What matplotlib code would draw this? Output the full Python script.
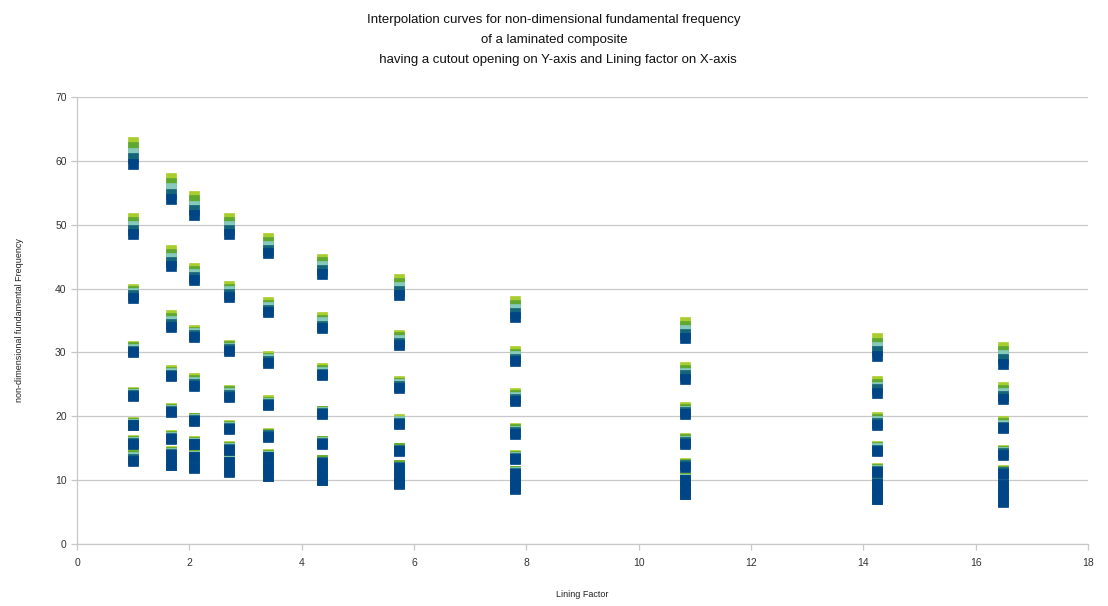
import matplotlib
matplotlib.use("Agg")
import matplotlib.pyplot as plt

plt.rcParams['font.family'] = ['Liberation Sans', 'DejaVu Sans']

# Lining factor positions
lining = [1.0, 1.68, 2.08, 2.7, 3.4, 4.37, 5.73, 7.8, 10.82, 14.24, 16.49]

# Non-dimensional fundamental frequency: five series, each holding eight curves
freq_s1 = [
    [59.5, 54.0, 51.5, 48.5, 45.5, 42.3, 39.0, 35.6, 32.2, 29.5, 28.2],
    [48.5, 43.5, 41.3, 38.7, 36.3, 33.8, 31.1, 28.6, 25.9, 23.7, 22.7],
    [38.6, 34.0, 32.4, 30.2, 28.4, 26.4, 24.4, 22.4, 20.3, 18.7, 18.1],
    [30.0, 26.3, 24.8, 23.1, 21.7, 20.3, 18.8, 17.2, 15.6, 14.6, 14.0],
    [23.2, 20.7, 19.2, 18.0, 16.8, 15.6, 14.5, 13.3, 12.1, 11.3, 11.0],
    [18.6, 16.5, 15.6, 14.8, 13.6, 12.7, 11.9, 11.0, 10.0, 9.4, 9.2],
    [15.6, 14.0, 13.6, 12.8, 11.9, 11.2, 10.4, 9.7, 8.8, 8.2, 7.9],
    [13.0, 12.3, 11.9, 11.3, 10.6, 10.0, 9.4, 8.6, 7.8, 7.0, 6.6],
]
freq_s2 = [
    [60.4, 54.8, 52.3, 49.2, 46.1, 42.9, 39.6, 36.2, 32.9, 30.2, 28.9],
    [49.1, 44.1, 41.8, 39.1, 36.7, 34.2, 31.5, 29.0, 26.4, 24.2, 23.2],
    [39.0, 34.5, 32.7, 30.5, 28.7, 26.7, 24.7, 22.7, 20.6, 19.0, 18.4],
    [30.3, 26.5, 25.1, 23.4, 21.9, 20.5, 19.0, 17.5, 15.9, 14.8, 14.2],
    [23.4, 20.9, 19.4, 18.2, 17.0, 15.8, 14.7, 13.5, 12.3, 11.5, 11.2],
    [18.7, 16.6, 15.7, 14.9, 13.7, 12.8, 12.0, 11.1, 10.1, 9.5, 9.3],
    [15.8, 14.1, 13.7, 12.9, 12.0, 11.3, 10.5, 9.8, 8.9, 8.3, 8.0],
    [13.3, 12.4, 12.0, 11.4, 10.7, 10.1, 9.5, 8.7, 7.9, 7.1, 6.7],
]
freq_s3 = [
    [61.3, 55.7, 53.0, 49.8, 46.7, 43.5, 40.3, 36.8, 33.5, 30.9, 29.6],
    [49.8, 44.8, 42.3, 39.6, 37.1, 34.7, 32.0, 29.4, 26.8, 24.6, 23.7],
    [39.3, 34.9, 33.0, 30.7, 29.0, 27.0, 25.0, 23.1, 20.9, 19.3, 18.7],
    [30.5, 26.8, 25.4, 23.6, 22.1, 20.6, 19.2, 17.7, 16.1, 15.0, 14.4],
    [23.5, 21.0, 19.5, 18.3, 17.1, 15.9, 14.8, 13.6, 12.4, 11.6, 11.3],
    [18.8, 16.7, 15.8, 15.0, 13.8, 12.9, 12.1, 11.2, 10.2, 9.6, 9.4],
    [15.9, 14.2, 13.8, 13.0, 12.1, 11.4, 10.6, 9.9, 9.0, 8.4, 8.1],
    [13.6, 12.5, 12.1, 11.5, 10.8, 10.2, 9.6, 8.8, 8.0, 7.2, 6.8],
]
freq_s4 = [
    [62.1, 56.5, 53.8, 50.5, 47.3, 44.1, 40.9, 37.4, 34.2, 31.5, 30.2],
    [50.4, 45.4, 42.8, 40.0, 37.5, 35.1, 32.4, 29.8, 27.3, 25.1, 24.1],
    [39.7, 35.4, 33.2, 31.0, 29.2, 27.3, 25.2, 23.4, 21.1, 19.6, 19.0],
    [30.8, 27.0, 25.7, 23.9, 22.3, 20.8, 19.3, 18.0, 16.4, 15.2, 14.5],
    [23.7, 21.2, 19.7, 18.5, 17.3, 16.1, 15.0, 13.8, 12.6, 11.8, 11.5],
    [19.0, 16.9, 16.0, 15.2, 14.0, 13.1, 12.3, 11.4, 10.4, 9.8, 9.6],
    [16.1, 14.4, 14.0, 13.2, 12.3, 11.6, 10.8, 10.1, 9.2, 8.6, 8.3],
    [13.9, 12.7, 12.3, 11.7, 11.0, 10.4, 9.8, 9.0, 8.2, 7.4, 7.0],
]
freq_s5 = [
    [63.0, 57.3, 54.5, 51.1, 47.9, 44.7, 41.5, 38.0, 34.8, 32.2, 30.9],
    [51.0, 46.0, 43.3, 40.4, 37.9, 35.5, 32.8, 30.2, 27.7, 25.5, 24.6],
    [40.0, 35.8, 33.5, 31.2, 29.5, 27.6, 25.5, 23.7, 21.4, 19.9, 19.3],
    [31.0, 27.2, 26.0, 24.1, 22.5, 20.9, 19.5, 18.2, 16.6, 15.4, 14.7],
    [23.8, 21.3, 19.8, 18.6, 17.4, 16.2, 15.1, 13.9, 12.7, 11.9, 11.6],
    [19.1, 17.0, 16.1, 15.3, 14.1, 13.2, 12.4, 11.5, 10.5, 9.9, 9.7],
    [16.3, 14.5, 14.1, 13.3, 12.4, 11.7, 10.9, 10.2, 9.3, 8.7, 8.4],
    [14.2, 12.8, 12.4, 11.8, 11.1, 10.5, 9.9, 9.1, 8.3, 7.5, 7.1],
]

series = [freq_s5, freq_s4, freq_s3, freq_s2, freq_s1]
colors = ['#aacd2e', '#5ea832', '#86c9bd', '#14647a', '#004586']

x_ticks = list(range(0, 19, 2))
y_ticks = list(range(0, 71, 10))

fig = plt.figure(figsize=(11.08, 6.06), dpi=100)
ax = fig.add_axes([0.0695, 0.1023, 0.9125, 0.7376])

# draw the highest series first so the lowest one sits on top
for data, col in zip(series, colors):
    for curve in data:
        ax.plot(lining, curve, linestyle='none', marker='s', markersize=7,
                color=col, markeredgecolor=col, markeredgewidth=0.5)

ax.set_xlim(0, 18)
ax.set_ylim(0, 70)
ax.set_xticks(x_ticks)
ax.set_yticks(y_ticks)
ax.yaxis.grid(True, color='#c8c8c8', linewidth=0.9)
ax.set_axisbelow(True)
for side in ['top', 'right']:
    ax.spines[side].set_visible(False)
for side in ['left', 'bottom']:
    ax.spines[side].set_color('#c8c8c8')
    ax.spines[side].set_linewidth(0.9)
ax.tick_params(axis='both', colors='#c8c8c8', labelcolor='#333333',
               labelsize=7.5, length=4, width=0.9)
ax.tick_params(axis='x', pad=6)

ax.set_xlabel('Lining Factor', fontsize=6.5, color='#222222', labelpad=16)
ax.set_ylabel('non-dimensional fundamental Frequency', fontsize=6.5,
              color='#222222', labelpad=22)

fig.text(0.5, 0.977,
         'Interpolation curves for non-dimensional fundamental frequency\n'
         'of a laminated composite\n'
         '  having a cutout opening on Y-axis and Lining factor on X-axis',
         ha='center', va='top', fontsize=9.5, linespacing=1.9,
         color='#111111')

fig.savefig('out.png', dpi=100)
